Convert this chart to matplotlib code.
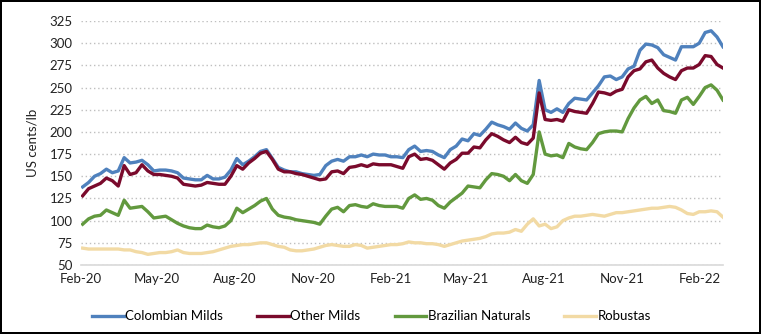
import matplotlib.pyplot as plt
import matplotlib.dates as mdates
import numpy as np
import pandas as pd

plt.rcParams['font.family'] = ['Lato', 'DejaVu Sans']

# weekly observations, Feb 2020 - Feb 2022 (US cents/lb)
dates = pd.date_range('2020-02-03', periods=109, freq='7D')

colombian = [138, 143, 150, 153, 158, 154, 156, 171, 165, 166,
             168, 163, 156, 157, 157, 156, 154, 148, 147, 146,
             146, 151, 147, 147, 149, 157, 170, 163, 167, 172,
             178, 180, 170, 160, 157, 155, 155, 153, 152, 151,
             152, 162, 167, 169, 167, 172, 172, 174, 172, 175,
             174, 174, 172, 172, 171, 180, 184, 178, 179, 178,
             174, 171, 180, 184, 192, 190, 198, 196, 203, 211,
             208, 206, 203, 210, 204, 201, 208, 258, 225, 222,
             226, 222, 232, 238, 237, 236, 244, 252, 262, 263,
             259, 262, 271, 274, 292, 299, 298, 295, 287, 284,
             281, 296, 296, 296, 300, 312, 314, 307, 296]

other_milds = [128, 136, 139, 142, 148, 145, 139, 162, 152, 154,
               163, 156, 152, 152, 151, 150, 148, 141, 140, 139,
               140, 143, 142, 141, 141, 150, 162, 158, 165, 170,
               176, 178, 169, 158, 155, 155, 153, 152, 150, 148,
               146, 147, 155, 156, 153, 160, 161, 163, 161, 164,
               163, 163, 163, 161, 159, 172, 175, 169, 170, 168,
               163, 158, 165, 169, 176, 176, 183, 182, 191, 198,
               195, 191, 188, 194, 188, 186, 193, 244, 214, 213,
               214, 212, 225, 223, 222, 221, 232, 245, 244, 242,
               246, 248, 262, 269, 271, 279, 281, 272, 266, 262,
               259, 269, 272, 272, 276, 286, 285, 276, 272]

brazilian = [96, 102, 105, 106, 112, 109, 106, 123, 114, 115,
             116, 110, 103, 104, 105, 101, 97, 94, 92, 91,
             91, 95, 93, 92, 94, 100, 114, 109, 113, 117,
             122, 125, 113, 106, 104, 103, 101, 100, 99, 98,
             96, 105, 113, 115, 110, 117, 118, 116, 115, 119,
             117, 116, 116, 116, 114, 125, 129, 124, 125, 123,
             117, 114, 121, 126, 131, 139, 138, 137, 146, 153,
             152, 150, 145, 152, 145, 142, 152, 200, 175, 173,
             174, 171, 187, 183, 181, 180, 188, 198, 200, 201,
             201, 200, 215, 227, 236, 240, 232, 236, 224, 223,
             221, 236, 239, 231, 240, 250, 253, 247, 236]

robustas = [69, 68, 68, 68, 68, 68, 68, 67, 67, 65,
            64, 62, 63, 64, 64, 65, 67, 64, 63, 63,
            63, 64, 65, 67, 69, 71, 72, 73, 73, 74,
            75, 75, 73, 71, 70, 67, 66, 66, 67, 68,
            70, 72, 73, 72, 71, 71, 73, 72, 69, 70,
            71, 72, 73, 73, 74, 76, 75, 75, 74, 74,
            73, 71, 73, 75, 77, 78, 79, 80, 82, 85,
            86, 86, 87, 90, 88, 96, 102, 94, 96, 91,
            93, 100, 103, 105, 105, 106, 107, 106, 105, 107,
            109, 109, 110, 111, 112, 113, 114, 114, 115, 116,
            115, 112, 108, 107, 110, 110, 111, 110, 104]

series = [('Colombian Milds', colombian, '#4F81BD'),
          ('Other Milds', other_milds, '#7A0A2C'),
          ('Brazilian Naturals', brazilian, '#62993E'),
          ('Robustas', robustas, '#F2DAA4')]

fig = plt.figure(figsize=(7.61, 3.34), dpi=100, edgecolor='black', linewidth=1.5)
ax = fig.add_axes([0.1064, 0.2066, 0.8436, 0.7305])

for name, vals, col in series:
    ax.plot(dates, vals, color=col, lw=2.4, label=name, solid_joinstyle='round')

ax.set_ylim(50, 325)
ax.set_yticks(np.arange(50, 326, 25))
ax.set_xlim(pd.Timestamp('2020-02-01'), pd.Timestamp('2022-02-28'))
ticks = pd.date_range('2020-02-01', '2022-02-01', freq='3MS')
ax.set_xticks(ticks)
ax.xaxis.set_major_formatter(mdates.DateFormatter('%b-%y'))

ax.grid(axis='y', color='#BFBFBF', linestyle=(0, (1, 2)), lw=1)
ax.set_axisbelow(True)
for s in ['top', 'right', 'left']:
    ax.spines[s].set_visible(False)
ax.spines['bottom'].set_color('#D9D9D9')
ax.spines['bottom'].set_linewidth(1.2)
ax.tick_params(length=0, labelsize=9.5, colors='#222222', pad=6)
ax.set_ylabel('US cents/lb', fontsize=9.5, color='#222222', labelpad=8)

fig.legend(loc='lower center', bbox_to_anchor=(0.488, 0.0), ncol=4, frameon=False,
           fontsize=9.5, handlelength=2.4, columnspacing=2.6, handletextpad=0.1)

fig.savefig('out.png', dpi=100)
